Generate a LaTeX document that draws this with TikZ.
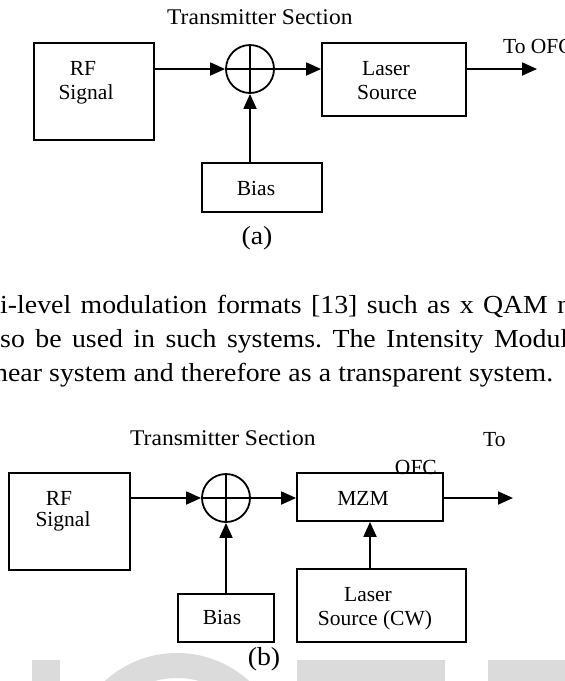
\documentclass[tikz,border=0pt]{standalone}
\usepackage{fontspec}
\setmainfont{Liberation Serif}
\newfontfamily\lblfamily{Liberation Serif}
\newfontfamily\ttlfamily[FakeStretch=1.05]{Liberation Serif}
\newfontfamily\parfamily[FakeStretch=1.07]{Liberation Serif}
\newcommand\mylblfont{\lblfamily\fontsize{21.5pt}{24pt}\selectfont}
\newcommand\myttlfont{\ttlfamily\fontsize{22.4pt}{24pt}\selectfont}
\newcommand\myparfont{\parfamily\fontsize{26pt}{30pt}\selectfont}
\usetikzlibrary{arrows.meta}
\tikzset{
  box/.style={draw, line width=1.8pt, inner sep=0pt},
  sumnode/.style={draw, circle, line width=1.8pt, minimum size=48pt, inner sep=0pt},
  arr/.style={line width=1.8pt, -{Triangle[length=15pt,width=13pt]}},
  crossline/.style={line width=1.8pt},
  lbl/.style={font=\mylblfont, inner sep=0pt},
  ttl/.style={font=\myttlfont, inner sep=0pt, anchor=base west},
  para/.style={font=\myparfont, inner sep=0pt, anchor=base west},
  wm/.style={fill=black!14}
}
\frenchspacing
\begin{document}
\begin{tikzpicture}[x=1pt,y=-1pt]
\useasboundingbox (0,0) rectangle (565,681);
\clip (0,0) rectangle (565,681);
% watermark
\fill[wm] (32,660) rectangle (60,681);
\fill[wm, even odd rule] (177,760) circle[radius=107pt] (177,760) circle[radius=82pt];
\fill[wm] (297,660) rectangle (445,681);
\fill[wm] (488,660) rectangle (565,681);

% ---------- panel (a)
\node[ttl] (titleA) at (167,24) {Transmitter Section};
\node[box, minimum width=120pt, minimum height=97pt] (rfA) at (94,91.5) {};
\node[lbl, anchor=base] (rfAt1) at (83,75) {RF};
\node[lbl, anchor=base] (rfAt2) at (86,99) {Signal};
\node[sumnode] (sumA) at (250,69) {};
\draw[crossline] (sumA.north) -- (sumA.south) (sumA.west) -- (sumA.east);
\node[box, minimum width=144pt, minimum height=73pt] (laserA) at (394,79.5) {};
\node[lbl, anchor=base] (laserAt1) at (386,75) {Laser};
\node[lbl, anchor=base] (laserAt2) at (387,99) {Source};
\node[box, minimum width=120pt, minimum height=49pt] (biasA) at (262,187.5) {};
\node[lbl, anchor=base] (biasAt) at (256,195) {Bias};
\node[lbl, anchor=base west] (toA) at (503,53) {To OFC};
\coordinate (outA) at (537,69);
\draw[arr] (rfA.east |- sumA) -- (sumA.west);
\draw[arr] (sumA.east) -- (laserA.west |- sumA);
\draw[arr] (laserA.east |- sumA) -- (outA);
\draw[arr] (biasA.north -| sumA) -- (sumA.south);
\node[font=\myparfont, inner sep=0pt, anchor=base] (capA) at (257,244) {(a)};

% ---------- paragraph
\node[para] (line1) at (0,313) {\makebox[571pt][s]{i-level modulation formats [13] such as x QAM n}};
\node[para] (line2) at (0,347) {\makebox[568pt][s]{so be used in such systems. The Intensity Modul}};
\node[para] (line3) at (-6,381) {\makebox[559pt][s]{near system and therefore as a transparent system.}};

% ---------- panel (b)
\node[ttl] (titleB) at (130,445) {Transmitter Section};
\node[box, minimum width=121pt, minimum height=97pt] (rfB) at (69.5,521.5) {};
\node[lbl, anchor=base] (rfBt1) at (59,505) {RF};
\node[lbl, anchor=base] (rfBt2) at (63,526) {Signal};
\node[sumnode] (sumB) at (226,498) {};
\draw[crossline] (sumB.north) -- (sumB.south) (sumB.west) -- (sumB.east);
\node[box, minimum width=146pt, minimum height=48pt] (mzmB) at (370,497) {};
\node[lbl, anchor=base] (mzmBt) at (363,505) {MZM};
\node[lbl, anchor=base east] (ofcB) at (437,474) {OFC};
\node[lbl, anchor=base west] (toB) at (483,446) {To};
\node[box, minimum width=169pt, minimum height=73pt] (laserB) at (381.5,605.5) {};
\node[lbl, anchor=base] (laserBt1) at (368,601) {Laser};
\node[lbl, anchor=base] (laserBt2) at (375,625) {Source (CW)};
\node[box, minimum width=96pt, minimum height=48pt] (biasB) at (226,618) {};
\node[lbl, anchor=base] (biasBt) at (222,624) {Bias};
\coordinate (outB) at (513,498);
\draw[arr] (rfB.east |- sumB) -- (sumB.west);
\draw[arr] (sumB.east) -- (mzmB.west |- sumB);
\draw[arr] (mzmB.east |- sumB) -- (outB);
\draw[arr] (biasB.north -| sumB) -- (sumB.south);
\draw[arr] (laserB.north -| mzmB) -- (mzmB.south);
\node[font=\myparfont, inner sep=0pt, anchor=base] (capB) at (264,665) {(b)};
\end{tikzpicture}
\end{document}
